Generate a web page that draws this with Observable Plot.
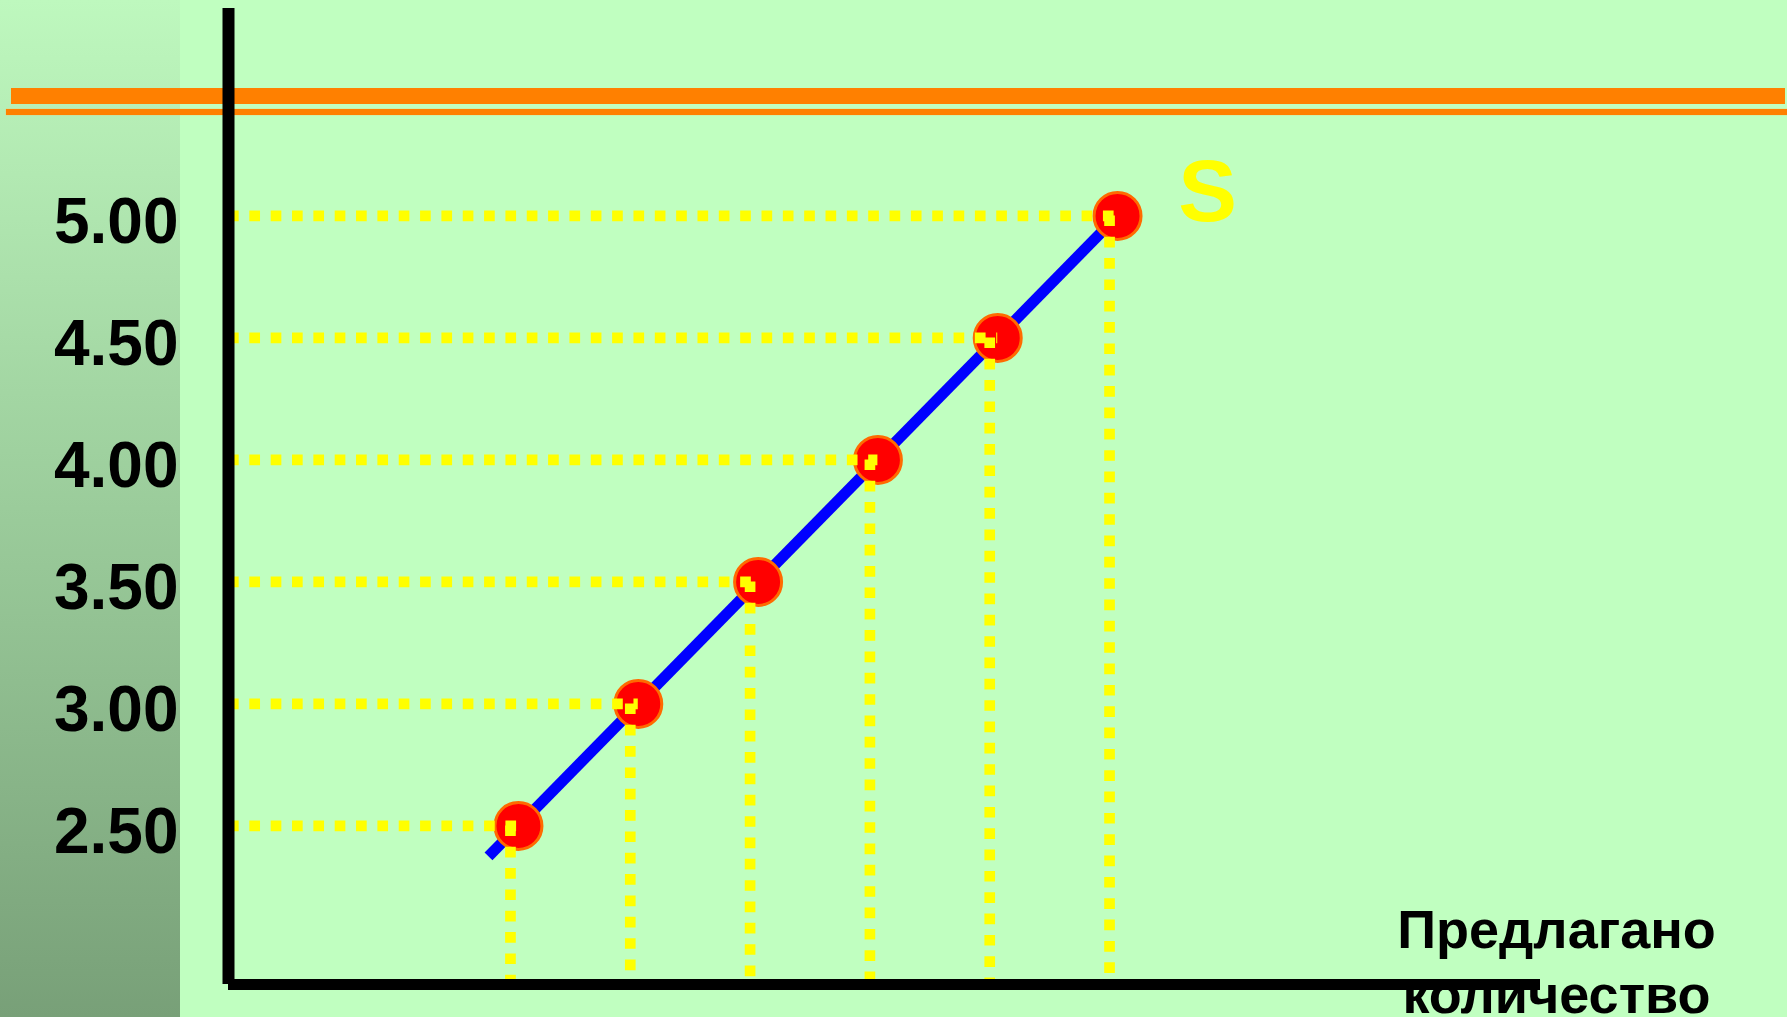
<!DOCTYPE html>
<html>
<head>
<meta charset="utf-8">
<script src="https://cdn.jsdelivr.net/npm/d3@7"></script>
<script src="https://cdn.jsdelivr.net/npm/@observablehq/plot@0.6"></script>
<style>
  html, body { margin: 0; padding: 0; width: 1787px; height: 1017px; overflow: hidden; }
  body { position: relative; background: #c0ffc0; font-family: "Liberation Sans", Arial, sans-serif; }
  #side { position: absolute; left: 0; top: 0; width: 180px; height: 1017px;
          background: linear-gradient(to bottom, #bef8be, #78a078); }
  .band { position: absolute; background: #ff8000; }
  #band-thick { left: 11px; top: 88px; width: 1774px; height: 16px; }
  #band-thin { left: 6px; top: 109px; width: 1781px; height: 6px; box-shadow: 0 0 1px #ffb060; }
  #chart { position: absolute; left: 0; top: 0; }
</style>
</head>
<body>
<div id="side"></div>
<div class="band" id="band-thick"></div>
<div class="band" id="band-thin"></div>
<div id="chart"></div>
<script>
// Supply schedule: price per unit and the quantity offered at that price
const prices = [2.5, 3.0, 3.5, 4.0, 4.5, 5.0];
const quantities = [1, 2, 3, 4, 5, 6];

// Supply curve S: runs a little below the lowest point up to the highest one
const curveQuantities = [0.75, 6];
const curvePrices = [2.375, 5.0];

const curveName = "S";
const quantityTitle = ["Предлагано", "количество"];

const points = prices.map((p, i) => ({q: quantities[i], p}));
const curve = curvePrices.map((p, i) => ({q: curveQuantities[i], p}));

// Extent of the two axis lines (data units)
const qExtent = [-1.42, 9.53];
const pExtent = [1.85, 5.85];

const fmt = d3.format(".2f");
const dotted = "10.67 10.67";

const chart = Plot.plot({
  width: 1787,
  height: 1017,
  margin: 0,
  style: {background: "transparent", fontFamily: "'Liberation Sans', Arial, sans-serif", overflow: "visible"},
  x: {domain: qExtent, range: [228, 1540], axis: null},
  y: {domain: pExtent, range: [984, 8], axis: null},
  marks: [
    // the supply curve
    Plot.line(curve, {x: "q", y: "p", stroke: "#0000ff", strokeWidth: 11, strokeLinecap: "butt"}),
    // schedule points
    Plot.dot(points, {x: "q", y: "p", r: 23.5, fill: "#ff0000", stroke: "#ff6a00", strokeWidth: 3}),
    // dotted guides to the price axis
    Plot.ruleY(points, {y: "p", x1: () => qExtent[0], x2: "q", stroke: "#ffff00",
      strokeWidth: 10.67, strokeDasharray: dotted, strokeLinecap: "butt"}),
    // dotted guides down to the quantity axis
    Plot.ruleX(points, {x: "q", y1: "p", y2: () => pExtent[0], dx: -8, stroke: "#ffff00",
      strokeWidth: 10.67, strokeDasharray: dotted, strokeLinecap: "butt"}),
    // axis lines
    Plot.ruleX([qExtent[0]], {y1: pExtent[0], y2: pExtent[1], stroke: "#000", strokeWidth: 12, strokeLinecap: "butt"}),
    Plot.ruleY([pExtent[0]], {x1: qExtent[0], x2: qExtent[1], stroke: "#000", strokeWidth: 11, strokeLinecap: "butt"}),
    // price tick labels
    Plot.text(prices, {x: () => qExtent[0], y: d => d, text: d => fmt(d), textAnchor: "end",
      lineAnchor: "middle", dx: -50, dy: 7, fontSize: 64, fontWeight: "bold", fill: "#000"}),
    // curve name
    Plot.text(points.slice(-1), {x: "q", y: "p", text: () => curveName, dx: 90, dy: -23,
      fontSize: 88, fontWeight: "bold", fill: "#ffff00"}),
    // quantity axis title
    Plot.text([quantityTitle.join("\n")], {x: () => qExtent[1], y: () => pExtent[0], dx: 16, dy: -25,
      textAnchor: "middle", lineAnchor: "middle", lineHeight: 1.2, fontSize: 54, fontWeight: "bold", fill: "#000"})
  ]
});

document.getElementById("chart").appendChild(chart);
</script>
</body>
</html>
